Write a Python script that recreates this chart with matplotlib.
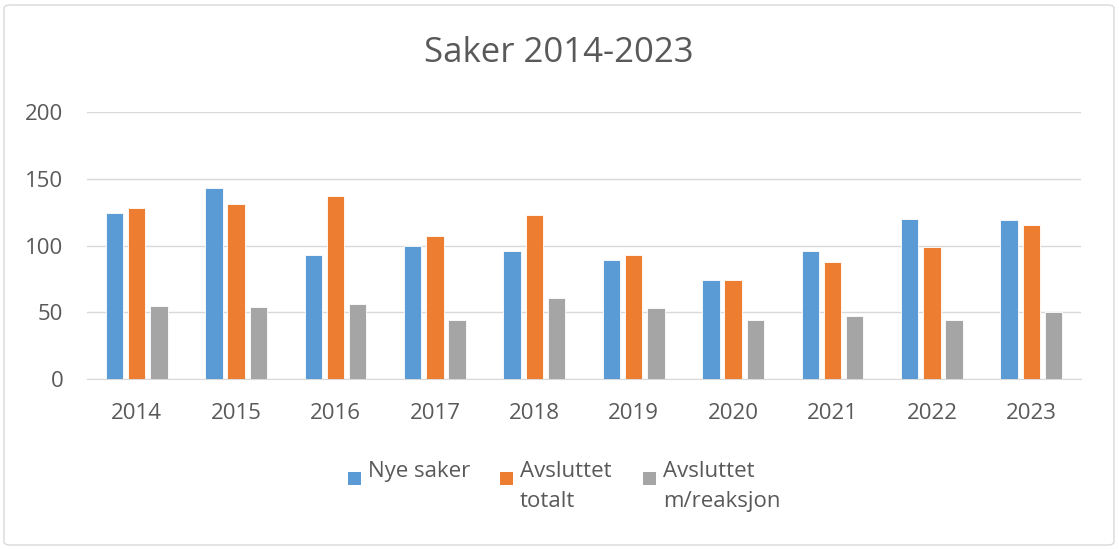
import matplotlib
matplotlib.use("Agg")
import matplotlib.pyplot as plt
from matplotlib.patches import FancyBboxPatch, Rectangle
import numpy as np

years = ["2014", "2015", "2016", "2017", "2018", "2019", "2020", "2021", "2022", "2023"]
nye_saker = [124, 143, 93, 100, 96, 89, 74, 96, 120, 119]
avsluttet_totalt = [128, 131, 137, 107, 123, 93, 74, 88, 99, 115]
avsluttet_reaksjon = [55, 54, 56, 44, 61, 53, 44, 47, 44, 50]
series_labels = ["Nye saker", "Avsluttet\ntotalt", "Avsluttet\nm/reaksjon"]
colors = ["#5B9BD5", "#ED7D31", "#A5A5A5"]
title = "Saker 2014-2023"
yticks = [0, 50, 100, 150, 200]

plt.rcParams['font.family'] = ['Open Sans', 'DejaVu Sans']
txt = "#595959"

W, H = 1119, 549
fig = plt.figure(figsize=(W/100, H/100), dpi=100)
fig.patch.set_facecolor("white")
fig.patches.append(FancyBboxPatch((4/W, 4/H), (W-9)/W, (H-9)/H,
                                  boxstyle="round,pad=0,rounding_size=0.006",
                                  transform=fig.transFigure, facecolor="none",
                                  edgecolor="#d9d9d9", linewidth=1))

ax = fig.add_axes([87/W, (H-379)/H, 994/W, 267/H])
x = np.arange(len(years))
w = 0.175
for i, (vals, c) in enumerate(zip([nye_saker, avsluttet_totalt, avsluttet_reaksjon], colors)):
    ax.bar(x + (i-1)*0.224, vals, width=w, color=c, edgecolor="white", linewidth=0.6, zorder=3)

ax.set_xlim(-0.5, len(years)-0.5)
ax.set_ylim(0, 200)
ax.set_yticks(yticks)
ax.set_xticks(x)
ax.set_xticklabels(years)
ax.grid(axis="y", color="#d9d9d9", linewidth=1, zorder=0)
for s in ["left", "right", "top"]:
    ax.spines[s].set_visible(False)
ax.spines["bottom"].set_color("#d9d9d9")
ax.tick_params(axis="both", length=0, labelsize=16, labelcolor=txt)
ax.tick_params(axis="y", pad=17)
ax.tick_params(axis="x", pad=17)

fig.text(559/W, 1-53/H, title, ha="center", va="center", fontsize=25, color=txt)

# legend
leg_x = [348, 500, 643]
for lx, lab, c in zip(leg_x, series_labels, colors):
    fig.patches.append(Rectangle((lx/W, 1-485/H), 13/W, 13/H, transform=fig.transFigure,
                                 facecolor=c, edgecolor="none"))
    fig.text((lx+20)/W, 1-461/H, lab, ha="left", va="top", fontsize=16, color=txt,
             linespacing=1.55)

fig.savefig("out.png", dpi=100)
